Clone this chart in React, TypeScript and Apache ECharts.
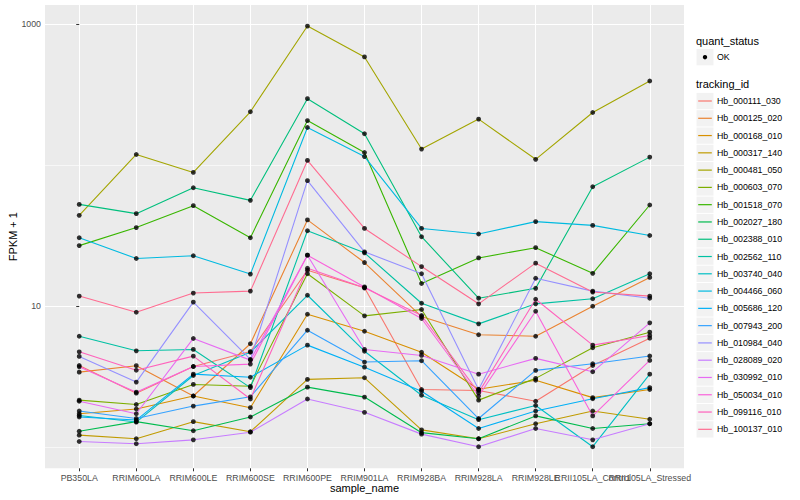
import React, { useEffect, useRef } from "react";
import * as echarts from "echarts";

const categories = [
  "PB350LA", "RRIM600LA", "RRIM600LE", "RRIM600SE", "RRIM600PE", "RRIM901LA",
  "RRIM928BA", "RRIM928LA", "RRIM928LE", "RRII105LA_Control", "RRII105LA_Stressed",
];

const trackingIds = [
  "Hb_000111_030", "Hb_000125_020", "Hb_000168_010", "Hb_000317_140", "Hb_000481_050",
  "Hb_000603_070", "Hb_001518_070", "Hb_002027_180", "Hb_002388_010", "Hb_002562_110",
  "Hb_003740_040", "Hb_004466_060", "Hb_005686_120", "Hb_007943_200", "Hb_010984_040",
  "Hb_028089_020", "Hb_030992_010", "Hb_050034_010", "Hb_099116_010", "Hb_100137_010",
];

const colors = [
  "#F8766D", "#EA8331", "#D89000", "#C09B00", "#A3A500",
  "#7CAE00", "#39B600", "#00BB4E", "#00BF7D", "#00C1A3",
  "#00BFC4", "#00BAE0", "#00B0F6", "#35A2FF", "#9590FF",
  "#C77CFF", "#E76BF3", "#FA62DB", "#FF62BC", "#FF6C91",
];

// FPKM + 1 per sample, in the order of `categories`
const hb000111_030 = [3.8, 2.42, 3.74, 4.77, 18.0, 13.5, 2.57, 2.53, 2.12, 3.8, 5.94];
const hb000125_020 = [3.41, 3.79, 2.31, 5.42, 40.9, 20.4, 8.45, 6.28, 6.13, 10.0, 16.0];
const hb000168_010 = [1.73, 1.87, 2.31, 1.91, 8.78, 6.65, 4.72, 2.58, 2.99, 2.25, 2.57];
const hb000317_140 = [1.22, 1.15, 1.52, 1.29, 3.03, 3.11, 1.33, 1.15, 1.47, 1.81, 1.58];
const hb000481_050 = [44.1, 119, 88.8, 239, 968, 585, 130, 212, 110, 236, 395];
const hb000603_070 = [2.16, 2.01, 2.79, 2.71, 17.0, 8.55, 9.48, 2.16, 3.08, 5.08, 6.55];
const hb001518_070 = [26.9, 36.1, 51.6, 30.6, 207, 123, 14.5, 22.0, 26.0, 17.1, 52.2];
const hb002027_180 = [1.3, 1.52, 1.31, 1.64, 2.67, 2.27, 1.27, 1.15, 1.67, 1.36, 1.47];
const hb002388_010 = [52.7, 45.3, 69.2, 56.3, 296, 167, 31.1, 11.4, 13.4, 70.3, 114];
const hb002562_110 = [6.13, 4.83, 4.94, 2.65, 34.3, 23.9, 10.5, 7.5, 10.4, 11.3, 17.0];
const hb003740_040 = [1.68, 1.51, 3.23, 4.72, 11.96, 4.8, 2.34, 1.57, 1.98, 1.01, 3.3];
const hb004466_060 = [30.6, 21.8, 22.8, 16.9, 185, 115, 35.6, 32.5, 39.8, 37.4, 31.7];
const hb005686_120 = [1.64, 1.56, 3.3, 3.14, 5.3, 3.7, 2.5, 1.36, 1.81, 2.21, 2.65];
const hb007943_200 = [1.81, 1.6, 1.96, 2.28, 6.76, 4.02, 4.11, 1.6, 3.51, 3.91, 4.44];
const hb010984_040 = [4.41, 2.9, 10.7, 4.2, 77.6, 24.3, 17.0, 2.57, 15.8, 12.8, 11.4];
const hb028089_020 = [1.1, 1.06, 1.13, 1.28, 2.2, 1.77, 1.24, 1.01, 1.36, 1.13, 1.47];
const hb030992_010 = [2.12, 1.73, 5.91, 4.15, 23.0, 4.94, 4.48, 3.3, 4.27, 3.43, 7.63];
const hb050034_010 = [3.72, 2.46, 3.74, 3.89, 23.0, 13.7, 8.18, 2.31, 9.22, 1.67, 4.13];
const hb099116_010 = [4.75, 3.52, 4.43, 2.2, 18.6, 13.5, 8.59, 2.44, 11.2, 5.3, 6.2];
const hb100137_010 = [11.8, 9.07, 12.4, 12.8, 108, 35.6, 19.1, 10.4, 20.2, 12.6, 11.8];

const seriesValues = [
  hb000111_030, hb000125_020, hb000168_010, hb000317_140, hb000481_050,
  hb000603_070, hb001518_070, hb002027_180, hb002388_010, hb002562_110,
  hb003740_040, hb004466_060, hb005686_120, hb007943_200, hb010984_040,
  hb028089_020, hb030992_010, hb050034_010, hb099116_010, hb100137_010,
];

const yTickLabels = [10, 1000];
const yMinorGrid = [1, 100];
const xTickValues = categories.map((_, i) => i);
const xEven = xTickValues.filter((i) => i % 2 === 0);
const xOdd = xTickValues.filter((i) => i % 2 === 1);

const FONT = "'Liberation Sans', Arial, Helvetica, sans-serif";

function buildLegend() {
  const els: any[] = [];
  const kx = 696.5;
  const kw = 17;
  const tx = 717;
  els.push({
    type: "text", x: 696, y: 41,
    style: { text: "quant_status", fontSize: 11, fontFamily: FONT, fill: "#000", verticalAlign: "middle" },
  });
  els.push({ type: "rect", shape: { x: kx, y: 49, width: kw, height: 16.3 }, style: { fill: "#F2F2F2" } });
  els.push({ type: "circle", shape: { cx: kx + kw / 2, cy: 57.2, r: 2.2 }, style: { fill: "#000" } });
  els.push({
    type: "text", x: tx, y: 57.2,
    style: { text: "OK", fontSize: 8.8, fontFamily: FONT, fill: "#000", verticalAlign: "middle" },
  });
  els.push({
    type: "text", x: 696, y: 83.5,
    style: { text: "tracking_id", fontSize: 11, fontFamily: FONT, fill: "#000", verticalAlign: "middle" },
  });
  const step = 17.28;
  trackingIds.forEach((id, i) => {
    const cy = 101 + i * step;
    els.push({ type: "rect", shape: { x: kx, y: cy - 8.1, width: kw, height: 16.3 }, style: { fill: "#F2F2F2" } });
    els.push({
      type: "line", shape: { x1: kx + 1.7, y1: cy, x2: kx + kw - 1.7, y2: cy },
      style: { stroke: colors[i], lineWidth: 1.2 },
    });
    els.push({
      type: "text", x: tx, y: cy,
      style: { text: id, fontSize: 8.8, fontFamily: FONT, fill: "#000", verticalAlign: "middle" },
    });
  });
  return els;
}

const xLabelStyle = {
  formatter: (v: number) => categories[Math.round(v)] ?? "",
  color: "#4D4D4D", fontSize: 8.8, margin: 5, fontFamily: FONT,
  hideOverlap: false, showMinLabel: true, showMaxLabel: true,
};

export default function App() {
  const ref = useRef<HTMLDivElement>(null);
  useEffect(() => {
    if (!ref.current) return;
    const chart = echarts.init(ref.current, undefined, { renderer: "svg" });
    const lineSeries = trackingIds.map((name, i) => ({
      name,
      type: "line",
      data: seriesValues[i].map((v, j) => [j, v]),
      symbol: "none",
      lineStyle: { color: colors[i], width: 1.1 },
      itemStyle: { color: colors[i] },
      z: 2,
      silent: true,
    }));
    const pointData: number[][] = [];
    seriesValues.forEach((vals) => vals.forEach((v, j) => pointData.push([j, v])));
    const option: any = {
      animation: false,
      backgroundColor: "#FFFFFF",
      textStyle: { fontFamily: FONT },
      grid: {
        left: 45, top: 5, right: 116, bottom: 31.7,
        show: true, backgroundColor: "#EBEBEB", borderWidth: 0,
        containLabel: false,
        outerBoundsMode: "none",
      },
      xAxis: [
        {
          type: "value",
          min: -0.6,
          max: 10.6,
          position: "bottom",
          axisLine: { show: false },
          axisTick: { show: true, length: 3, lineStyle: { color: "#333333", width: 1 }, customValues: xTickValues },
          axisLabel: { ...xLabelStyle, customValues: xEven },
          splitLine: { show: true, lineStyle: { color: "#FFFFFF", width: 1.07 } },
          name: "sample_name",
          nameLocation: "middle",
          nameGap: 14,
          nameMoveOverlap: false,
          nameTextStyle: { color: "#000", fontSize: 11, fontFamily: FONT },
        },
        {
          type: "value",
          min: -0.6,
          max: 10.6,
          position: "bottom",
          axisLine: { show: false },
          axisTick: { show: false, customValues: xOdd },
          axisLabel: { ...xLabelStyle, customValues: xOdd },
          splitLine: { show: false },
        },
      ],
      yAxis: [
        {
          type: "log",
          logBase: 10,
          min: 0.71,
          max: 1365,
          axisLine: { show: false },
          axisTick: { show: true, length: 3, lineStyle: { color: "#333333", width: 1 }, customValues: yTickLabels },
          axisLabel: {
            customValues: yTickLabels,
            formatter: (v: number) => String(Math.round(v)),
            color: "#4D4D4D", fontSize: 8.8, margin: 4, fontFamily: FONT,
          },
          splitLine: { show: true, lineStyle: { color: "#FFFFFF", width: 1.07 } },
          name: "FPKM + 1",
          nameLocation: "middle",
          nameGap: 26.5,
          nameRotate: 90,
          nameMoveOverlap: false,
          nameTextStyle: { color: "#000", fontSize: 11, fontFamily: FONT },
        },
        {
          type: "log",
          logBase: 10,
          min: 0.71,
          max: 1365,
          position: "left",
          axisLine: { show: false },
          axisTick: { show: false, customValues: yMinorGrid },
          axisLabel: { show: false, customValues: yMinorGrid },
          splitLine: { show: true, lineStyle: { color: "#FFFFFF", width: 0.6 } },
        },
      ],
      graphic: buildLegend(),
      series: [
        ...lineSeries,
        {
          type: "scatter",
          data: pointData,
          symbol: "circle",
          symbolSize: 4.8,
          itemStyle: { color: "#000000" },
          z: 3,
          silent: true,
        },
      ],
    };
    chart.setOption(option);
    return () => chart.dispose();
  }, []);
  return (
    <div
      ref={ref}
      style={{ position: "fixed", left: 0, top: 0, width: 800, height: 500 }}
    />
  );
}
